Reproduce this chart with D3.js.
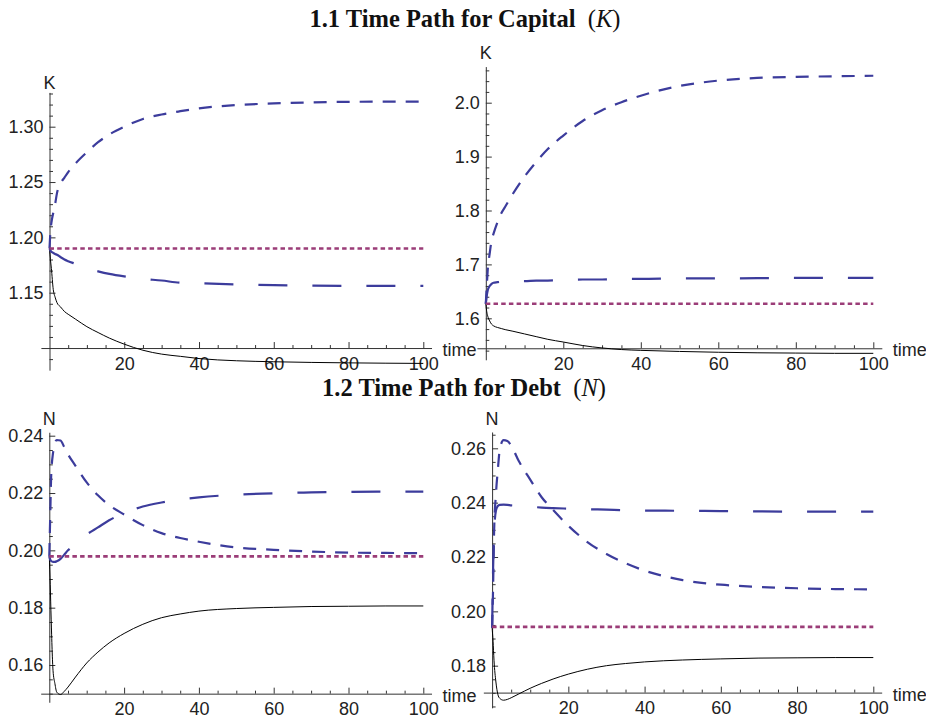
<!DOCTYPE html>
<html>
<head>
<meta charset="utf-8">
<script src="https://cdn.jsdelivr.net/npm/d3@7"></script>
<style>
  body { margin: 0; background: #fff; }
  svg { display: block; }
  .tick text, .lbl { font-family: "Liberation Sans Narrow", "Arial Narrow", "Liberation Sans", sans-serif; font-size: 18px; fill: #222; }
  .title { font-family: "Liberation Serif", "Times New Roman", serif; font-size: 24.5px; font-weight: bold; fill: #111; }
  .domain, .tick line { stroke: #333; }
</style>
</head>
<body>
<svg width="926" height="720"></svg>
<script>
// time grid shared by every path
const time = [0, 0.25, 0.5, 1, 1.5, 2, 3, 4, 5, 7, 10, 13, 16, 20, 25, 30, 35, 40, 50, 60, 70, 80, 90, 100];

// 1.1 capital, left
const capLeftShort = [1.19, 1.205, 1.213, 1.222, 1.230, 1.240, 1.249, 1.254, 1.259, 1.267, 1.277, 1.286, 1.293, 1.300, 1.307, 1.311, 1.314, 1.3166, 1.3196, 1.321, 1.322, 1.3225, 1.3226, 1.3226];
const capLeftLong = [1.19, 1.188, 1.187, 1.186, 1.185, 1.1843, 1.182, 1.180, 1.1785, 1.176, 1.172, 1.1693, 1.167, 1.1647, 1.1625, 1.161, 1.159, 1.1585, 1.1575, 1.1568, 1.1564, 1.1562, 1.1562, 1.1562];
const capLeftSolid = [1.19, 1.180, 1.172, 1.153, 1.146, 1.141, 1.137, 1.133, 1.1305, 1.126, 1.1193, 1.114, 1.109, 1.1035, 1.098, 1.0945, 1.0925, 1.0905, 1.0885, 1.0876, 1.087, 1.0866, 1.0863, 1.0861];
const capLeftSteady = 1.19;

// 1.1 capital, right
const capRightShort = [1.627, 1.66, 1.69, 1.72, 1.745, 1.757, 1.778, 1.795, 1.807, 1.831, 1.863, 1.89, 1.914, 1.939, 1.966, 1.986, 2.001, 2.013, 2.031, 2.041, 2.046, 2.048, 2.049, 2.050];
const capRightLong = [1.627, 1.642, 1.652, 1.660, 1.664, 1.666, 1.667, 1.668, 1.668, 1.669, 1.669, 1.670, 1.670, 1.671, 1.672, 1.672, 1.673, 1.673, 1.674, 1.674, 1.6745, 1.675, 1.675, 1.675];
const capRightSolid = [1.627, 1.612, 1.604, 1.595, 1.589, 1.586, 1.583, 1.581, 1.579, 1.576, 1.571, 1.566, 1.561, 1.556, 1.5495, 1.545, 1.542, 1.5405, 1.5385, 1.537, 1.536, 1.5355, 1.535, 1.535];
const capRightSteady = 1.627;

// 1.2 debt, left
const debtLeftShort = [0.198, 0.212, 0.226, 0.234, 0.2375, 0.2385, 0.2383, 0.236, 0.2335, 0.2295, 0.2237, 0.2192, 0.2158, 0.2125, 0.2088, 0.206, 0.2043, 0.203, 0.201, 0.2002, 0.1996, 0.1992, 0.1991, 0.199];
const debtLeftLong = [0.198, 0.1968, 0.1963, 0.196, 0.196, 0.1962, 0.197, 0.1985, 0.2, 0.202, 0.2055, 0.208, 0.2105, 0.213, 0.2153, 0.2167, 0.2177, 0.2185, 0.2194, 0.2199, 0.2202, 0.2204, 0.2205, 0.2205];
const debtLeftSolid = [0.198, 0.188, 0.176, 0.158, 0.1535, 0.1505, 0.1497, 0.1508, 0.1523, 0.1558, 0.1607, 0.1645, 0.1677, 0.171, 0.1742, 0.1765, 0.1778, 0.1788, 0.1797, 0.1801, 0.1804, 0.1805, 0.1806, 0.1806];
const debtLeftSteady = 0.1979;

// 1.2 debt, right
const debtRightShort = [0.194, 0.208, 0.228, 0.243, 0.252, 0.2594, 0.263, 0.2627, 0.261, 0.2553, 0.2485, 0.242, 0.2373, 0.2315, 0.2255, 0.2211, 0.2177, 0.215, 0.2115, 0.2098, 0.209, 0.2085, 0.2082, 0.2081];
const debtRightLong = [0.194, 0.215, 0.228, 0.237, 0.2388, 0.2392, 0.2393, 0.2392, 0.239, 0.2388, 0.2385, 0.2382, 0.238, 0.2378, 0.2376, 0.2374, 0.2372, 0.2371, 0.237, 0.2369, 0.2368, 0.2367, 0.2367, 0.2367];
const debtRightSolid = [0.194, 0.189, 0.182, 0.174, 0.1695, 0.168, 0.1673, 0.1676, 0.1682, 0.1696, 0.1717, 0.1735, 0.1751, 0.1769, 0.1787, 0.18, 0.1808, 0.1814, 0.1821, 0.1825, 0.1828, 0.1829, 0.183, 0.183];
const debtRightSteady = 0.1943;

// tick labels
const timeTicks = [20, 40, 60, 80, 100];
const timeMinor = d3.range(5, 100, 5).filter(d => d % 20 !== 0);
const capLeftTicks = [1.15, 1.20, 1.25, 1.30];
const capRightTicks = [1.6, 1.7, 1.8, 1.9, 2.0];
const debtLeftTicks = [0.16, 0.18, 0.20, 0.22, 0.24];
const debtRightTicks = [0.18, 0.20, 0.22, 0.24, 0.26];

const titles = ["1.1 Time Path for Capital", "1.2 Time Path for Debt"];
const titleVars = ["K", "N"];

const svg = d3.select("svg");
const blue = "#3c3c9c";
const purple = "#9b3d78";

const drawPanel = (p) => {
  const x = d3.scaleLinear().domain([0, 100]).range([p.x0, p.x100]);
  const y = d3.scaleLinear().domain(p.anchorVals).range(p.anchorPx);

  const xAxisScale = x.copy().domain([-2.3, 102.2]).range([x(-2.3), x(102.2)]);
  const yAxisScale = y.copy().domain([p.axisLo, p.axisHi]).range([y(p.axisLo), y(p.axisHi)]);

  const xAxisY = y(p.xAxisAt);
  const g = svg.append("g");

  // minor ticks
  g.append("g")
    .attr("transform", `translate(0, ${xAxisY})`)
    .call(d3.axisBottom(xAxisScale).tickValues(timeMinor).tickSize(-3).tickFormat(""))
    .call(s => s.select(".domain").remove());
  g.append("g")
    .attr("transform", `translate(${x(0)}, 0)`)
    .call(d3.axisLeft(yAxisScale).tickValues(p.minor).tickSize(-3.5).tickFormat(""))
    .call(s => s.select(".domain").remove());

  // major axes
  g.append("g")
    .attr("transform", `translate(0, ${xAxisY})`)
    .call(d3.axisBottom(xAxisScale).tickValues(timeTicks).tickSize(-6).tickSizeOuter(0).tickPadding(9));
  g.append("g")
    .attr("transform", `translate(${x(0)}, 0)`)
    .call(d3.axisLeft(yAxisScale).tickValues(p.ticks).tickFormat(d3.format(p.fmt))
      .tickSize(-6).tickSizeOuter(0).tickPadding(6));

  g.append("text").attr("class", "lbl")
    .attr("x", x(0)).attr("y", y(p.axisHi) - p.labelGap)
    .attr("text-anchor", "middle")
    .text(p.varName);

  g.append("text").attr("class", "lbl")
    .attr("x", x(102.2) + 11).attr("y", xAxisY + 8)
    .text("time");

  const line = d3.line()
    .x(d => x(d[0]))
    .y(d => y(d[1]))
    .curve(d3.curveMonotoneX);

  g.append("path")
    .attr("d", line(time.map((t, i) => [t, p.solid[i]])))
    .attr("fill", "none").attr("stroke", "#000").attr("stroke-width", 1);

  g.append("path")
    .attr("d", line(time.map((t, i) => [t, p.long[i]])))
    .attr("fill", "none").attr("stroke", blue).attr("stroke-width", 2.2)
    .attr("stroke-dasharray", "29,25");

  g.append("path")
    .attr("d", line(time.map((t, i) => [t, p.short[i]])))
    .attr("fill", "none").attr("stroke", blue).attr("stroke-width", 2.2)
    .attr("stroke-dasharray", "13,10");

  g.append("path")
    .attr("d", line([[0, p.steady], [100, p.steady]]))
    .attr("fill", "none").attr("stroke", purple).attr("stroke-width", 2.6)
    .attr("stroke-dasharray", "4.5,3.2");
};

const addTitle = (i, cx, baseline) => {
  const t = svg.append("text").attr("class", "title")
    .attr("x", cx).attr("y", baseline).attr("text-anchor", "middle")
    .attr("xml:space", "preserve");
  t.append("tspan").text(titles[i]);
  t.append("tspan").attr("font-weight", "normal").text("  (");
  t.append("tspan").attr("font-weight", "normal").attr("font-style", "italic").text(titleVars[i]);
  t.append("tspan").attr("font-weight", "normal").text(")");
};

addTitle(0, 465, 27);
addTitle(1, 464, 396);

drawPanel({
  x0: 49.5, x100: 423.3,
  anchorVals: [1.15, 1.30], anchorPx: [292.7, 126.7],
  axisLo: 1.08, axisHi: 1.331, xAxisAt: 1.10,
  ticks: capLeftTicks, fmt: ".2f",
  minor: d3.range(1.09, 1.335, 0.01).filter(v => Math.round(v * 100) % 5 !== 0),
  varName: "K", labelGap: 3,
  short: capLeftShort, long: capLeftLong, solid: capLeftSolid, steady: capLeftSteady
});

drawPanel({
  x0: 485.8, x100: 873.3,
  anchorVals: [1.6, 2.0], anchorPx: [318.3, 102.7],
  axisLo: 1.523, axisHi: 2.067, xAxisAt: 1.5444,
  ticks: capRightTicks, fmt: ".1f",
  minor: d3.range(1.54, 2.065, 0.02).filter(v => Math.round(v * 100) % 10 !== 0),
  varName: "K", labelGap: 8,
  short: capRightShort, long: capRightLong, solid: capRightSolid, steady: capRightSteady
});

drawPanel({
  x0: 49.3, x100: 423.3,
  anchorVals: [0.16, 0.24], anchorPx: [665, 435.7],
  axisLo: 0.147, axisHi: 0.2412, xAxisAt: 0.150,
  ticks: debtLeftTicks, fmt: ".2f",
  minor: d3.range(0.15, 0.2405, 0.005).filter(v => Math.round(v * 1000) % 20 !== 0),
  varName: "N", labelGap: 7,
  short: debtLeftShort, long: debtLeftLong, solid: debtLeftSolid, steady: debtLeftSteady
});

drawPanel({
  x0: 492.1, x100: 873.3,
  anchorVals: [0.18, 0.26], anchorPx: [665.7, 448.3],
  axisLo: 0.1645, axisHi: 0.266, xAxisAt: 0.1701,
  ticks: debtRightTicks, fmt: ".2f",
  minor: d3.range(0.165, 0.2655, 0.005).filter(v => Math.round(v * 1000) % 20 !== 0),
  varName: "N", labelGap: 7,
  short: debtRightShort, long: debtRightLong, solid: debtRightSolid, steady: debtRightSteady
});
</script>
</body>
</html>
